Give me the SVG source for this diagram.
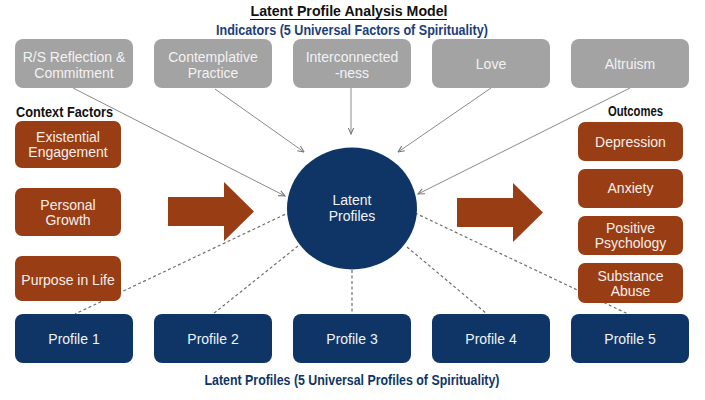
<svg xmlns="http://www.w3.org/2000/svg" width="705" height="400" viewBox="0 0 705 400">
<defs>
<style>
.t{font-family:"Liberation Sans",Arial,sans-serif}
.ind rect{fill:#a3a3a3}
.ind text{fill:#f2f2f2;font-size:14px;text-anchor:middle}
.ctx rect,.out rect{fill:#993d15}
.ctx text,.out text{fill:#f6eee8;font-size:14px;text-anchor:middle}
.prof rect{fill:#0f3567}
.prof text{fill:#f0f3f8;font-size:14px;text-anchor:middle}
.hd{font-weight:bold;font-size:14px}
.solid{stroke:#8a8a8a;stroke-width:1;fill:none;marker-end:url(#ah)}
.dash{stroke:#707070;stroke-width:1.2;stroke-dasharray:3 2.5;fill:none}
</style>
<marker id="ah" viewBox="0 0 10 10" refX="9" refY="5" markerWidth="7" markerHeight="7" orient="auto" markerUnits="userSpaceOnUse">
<path d="M0,1 L9,5 L0,9" fill="none" stroke="#777" stroke-width="1.5"/>
</marker>
</defs>
<rect width="705" height="400" fill="#fff"/>

<g id="titles" class="t">
<text x="349" y="16" class="hd" text-anchor="middle" textLength="197" lengthAdjust="spacingAndGlyphs" fill="#111">Latent Profile Analysis Model</text>
<line x1="250" y1="19.5" x2="447" y2="19.5" stroke="#111" stroke-width="1.2"/>
<text x="352" y="35" class="hd" text-anchor="middle" textLength="272" lengthAdjust="spacingAndGlyphs" fill="#1b3e7a">Indicators (5 Universal Factors of Spirituality)</text>
<text x="16" y="117" class="hd" textLength="97" lengthAdjust="spacingAndGlyphs" fill="#111">Context Factors</text>
<text x="608" y="116" class="hd" textLength="55" lengthAdjust="spacingAndGlyphs" fill="#111">Outcomes</text>
<text x="352" y="385" class="hd" text-anchor="middle" textLength="295" lengthAdjust="spacingAndGlyphs" fill="#0f3567">Latent Profiles (5 Universal Profiles of Spirituality)</text>
</g>

<g id="connectors">
<line class="dash" x1="290" y1="212" x2="75" y2="314"/>
<line class="dash" x1="298" y1="246" x2="213" y2="314"/>
<line class="dash" x1="352" y1="270" x2="352" y2="314"/>
<line class="dash" x1="407" y1="247" x2="487" y2="314"/>
<line class="dash" x1="415" y1="213" x2="628" y2="314"/>
<line class="solid" x1="73" y1="88" x2="285" y2="196"/>
<line class="solid" x1="215" y1="89" x2="304" y2="152"/>
<line class="solid" x1="351" y1="88" x2="351" y2="134"/>
<line class="solid" x1="491" y1="88" x2="398" y2="152"/>
<line class="solid" x1="630" y1="88" x2="418" y2="194"/>
</g>

<g id="ind1" class="ind t"><rect x="15" y="39" width="118" height="49" rx="8"/><text x="74" y="62">R/S Reflection &amp;</text><text x="74" y="78">Commitment</text></g>
<g id="ind2" class="ind t"><rect x="154" y="39" width="118" height="49" rx="8"/><text x="213" y="62">Contemplative</text><text x="213" y="78">Practice</text></g>
<g id="ind3" class="ind t"><rect x="293" y="39" width="118" height="49" rx="8"/><text x="352" y="62">Interconnected</text><text x="352" y="78">-ness</text></g>
<g id="ind4" class="ind t"><rect x="432" y="39" width="118" height="49" rx="8"/><text x="491" y="69">Love</text></g>
<g id="ind5" class="ind t"><rect x="571" y="39" width="118" height="49" rx="8"/><text x="630" y="69">Altruism</text></g>

<g id="ctx1" class="ctx t"><rect x="15" y="121" width="106" height="47" rx="7"/><text x="68" y="142">Existential</text><text x="68" y="157">Engagement</text></g>
<g id="ctx2" class="ctx t"><rect x="15" y="188" width="106" height="48" rx="7"/><text x="68" y="210">Personal</text><text x="68" y="225">Growth</text></g>
<g id="ctx3" class="ctx t"><rect x="15" y="256" width="106" height="45" rx="7"/><text x="68" y="285">Purpose in Life</text></g>

<g id="arrowL"><polygon points="168,197 224,197 224,182 254,211.5 224,241 224,226 168,226" fill="#993d15"/></g>
<g id="arrowR"><polygon points="457,198 513,198 513,183 543,212.5 513,242 513,227 457,227" fill="#993d15"/></g>

<g id="latent" class="t"><ellipse cx="352" cy="208.5" rx="65" ry="61" fill="#0f3567"/><text x="352" y="205" fill="#f0f3f8" font-size="14" text-anchor="middle">Latent</text><text x="352" y="221" fill="#f0f3f8" font-size="14" text-anchor="middle">Profiles</text></g>

<g id="out1" class="out t"><rect x="578" y="122" width="105" height="39" rx="7"/><text x="630.5" y="147">Depression</text></g>
<g id="out2" class="out t"><rect x="578" y="169" width="105" height="39" rx="7"/><text x="630.5" y="193">Anxiety</text></g>
<g id="out3" class="out t"><rect x="578" y="216" width="105" height="39" rx="7"/><text x="630.5" y="233">Positive</text><text x="630.5" y="248">Psychology</text></g>
<g id="out4" class="out t"><rect x="578" y="263" width="105" height="40" rx="7"/><text x="630.5" y="281">Substance</text><text x="630.5" y="296">Abuse</text></g>

<g id="p1" class="prof t"><rect x="15" y="314" width="118" height="49" rx="8"/><text x="74" y="344">Profile 1</text></g>
<g id="p2" class="prof t"><rect x="154" y="314" width="118" height="49" rx="8"/><text x="213" y="344">Profile 2</text></g>
<g id="p3" class="prof t"><rect x="293" y="314" width="118" height="49" rx="8"/><text x="352" y="344">Profile 3</text></g>
<g id="p4" class="prof t"><rect x="432" y="314" width="118" height="49" rx="8"/><text x="491" y="344">Profile 4</text></g>
<g id="p5" class="prof t"><rect x="571" y="314" width="118" height="49" rx="8"/><text x="630" y="344">Profile 5</text></g>
</svg>
